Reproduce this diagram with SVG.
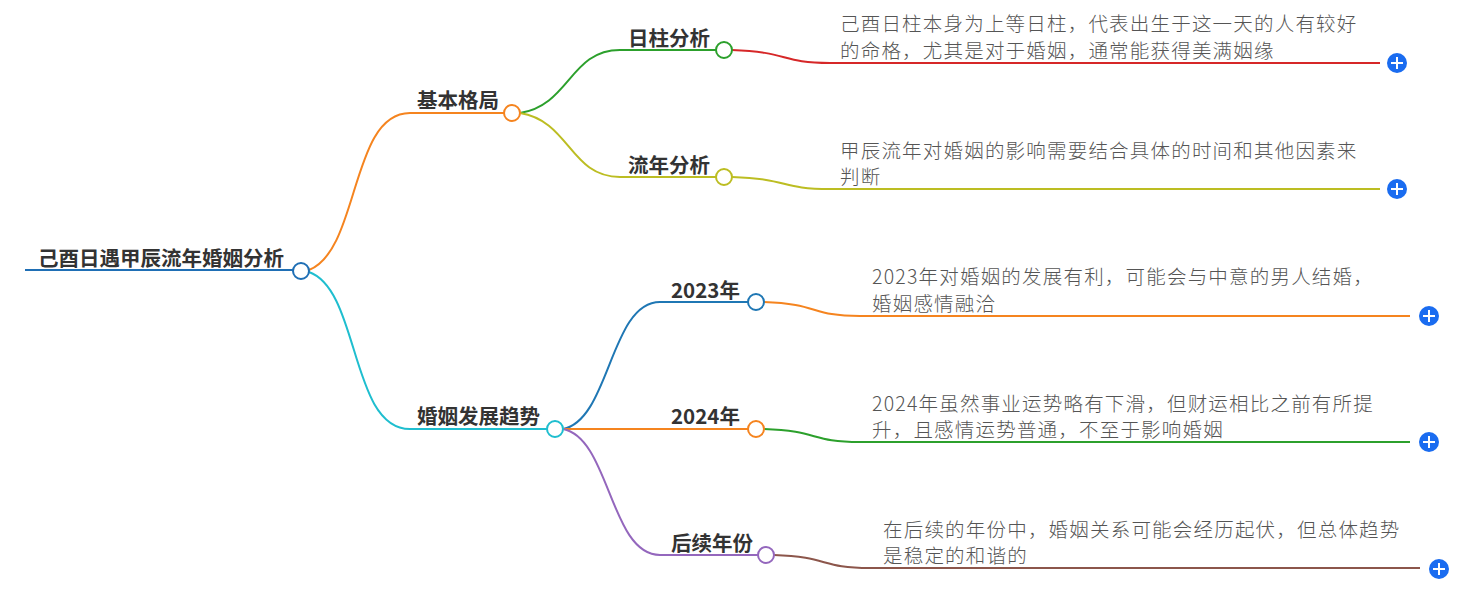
<svg xmlns="http://www.w3.org/2000/svg" width="1477" height="592" viewBox="0 0 1477 592">
<style>
.l{font-family:"Noto Sans CJK SC","Noto Sans",sans-serif;font-weight:bold;font-size:20.5px;fill:#333}
.t{font-family:"Noto Sans CJK SC","Noto Sans",sans-serif;font-weight:300;font-size:19.5px;letter-spacing:1.2px;fill:#555}
.c{fill:#fff;stroke-width:2}
path{fill:none;stroke-width:2}
.p{fill:#1a6cf0}
</style>
<rect width="1477" height="592" fill="#fff"/>
<g id="connectors">
<path d="M25 270H300" stroke="#1f6fb5" stroke-width="5"/>
<path d="M309 270C360 250 350 113 410 113H504" stroke="#f5841f" stroke-width="2.5"/>
<path d="M309 272C360 290 350 429 410 429H547" stroke="#1fbecf" stroke-width="2.5"/>
<path d="M520 113C570 105 570 50 620 50H716" stroke="#2ca02c"/>
<path d="M520 113C570 121 570 177 620 177H716" stroke="#bcbd22"/>
<path d="M563 429C610 420 610 302 660 302H748" stroke="#1f77b4"/>
<path d="M563 429H748" stroke="#f5841f"/>
<path d="M563 429C610 438 610 555 660 555H758" stroke="#9467bd"/>
<path d="M732 50C790 52 780 63 830 63H1380" stroke="#d62728"/>
<path d="M732 177C790 179 780 189 830 189H1380" stroke="#bcbd22"/>
<path d="M764 302C820 304 810 316 860 316H1410" stroke="#f5841f"/>
<path d="M764 429C820 431 810 442 860 442H1410" stroke="#2ca02c"/>
<path d="M774 555C830 557 820 568 870 568H1420" stroke="#8c564b"/>
</g>
<g id="root"><text class="l" x="38" y="266">己酉日遇甲辰流年婚姻分析</text><circle class="c" cx="301" cy="271" r="8" stroke="#1f6fb5"/></g>
<g id="n1"><text class="l" x="417" y="108">基本格局</text><circle class="c" cx="512" cy="113" r="8" stroke="#f5841f"/></g>
<g id="n2"><text class="l" x="417" y="424">婚姻发展趋势</text><circle class="c" cx="555" cy="429" r="8" stroke="#1fbecf"/></g>
<g id="n11"><text class="l" x="628" y="46">日柱分析</text><circle class="c" cx="724" cy="50" r="8" stroke="#2ca02c"/></g>
<g id="n12"><text class="l" x="628" y="173">流年分析</text><circle class="c" cx="724" cy="177" r="8" stroke="#bcbd22"/></g>
<g id="n21"><text class="l" x="671" y="298">2023年</text><circle class="c" cx="756" cy="302" r="8" stroke="#1f77b4"/></g>
<g id="n22"><text class="l" x="671" y="424">2024年</text><circle class="c" cx="756" cy="429" r="8" stroke="#f5841f"/></g>
<g id="n23"><text class="l" x="671" y="551">后续年份</text><circle class="c" cx="766" cy="555" r="8" stroke="#9467bd"/></g>
<g id="leaf1"><text class="t" x="840" y="31">己酉日柱本身为上等日柱，代表出生于这一天的人有较好</text><text class="t" x="840" y="58">的命格，尤其是对于婚姻，通常能获得美满姻缘</text><circle class="p" cx="1397" cy="63" r="10"/><path d="M1391 63h12M1397 57v12" stroke="#fff"/></g>
<g id="leaf2"><text class="t" x="840" y="158">甲辰流年对婚姻的影响需要结合具体的时间和其他因素来</text><text class="t" x="840" y="184">判断</text><circle class="p" cx="1397" cy="189" r="10"/><path d="M1391 189h12M1397 183v12" stroke="#fff"/></g>
<g id="leaf3"><text class="t" x="872" y="284">2023年对婚姻的发展有利，可能会与中意的男人结婚，</text><text class="t" x="872" y="311">婚姻感情融洽</text><circle class="p" cx="1429" cy="316" r="10"/><path d="M1423 316h12M1429 310v12" stroke="#fff"/></g>
<g id="leaf4"><text class="t" x="872" y="411">2024年虽然事业运势略有下滑，但财运相比之前有所提</text><text class="t" x="872" y="437">升，且感情运势普通，不至于影响婚姻</text><circle class="p" cx="1429" cy="442" r="10"/><path d="M1423 442h12M1429 436v12" stroke="#fff"/></g>
<g id="leaf5"><text class="t" x="883" y="537">在后续的年份中，婚姻关系可能会经历起伏，但总体趋势</text><text class="t" x="883" y="563">是稳定的和谐的</text><circle class="p" cx="1439" cy="569" r="10"/><path d="M1433 569h12M1439 563v12" stroke="#fff"/></g>
</svg>
